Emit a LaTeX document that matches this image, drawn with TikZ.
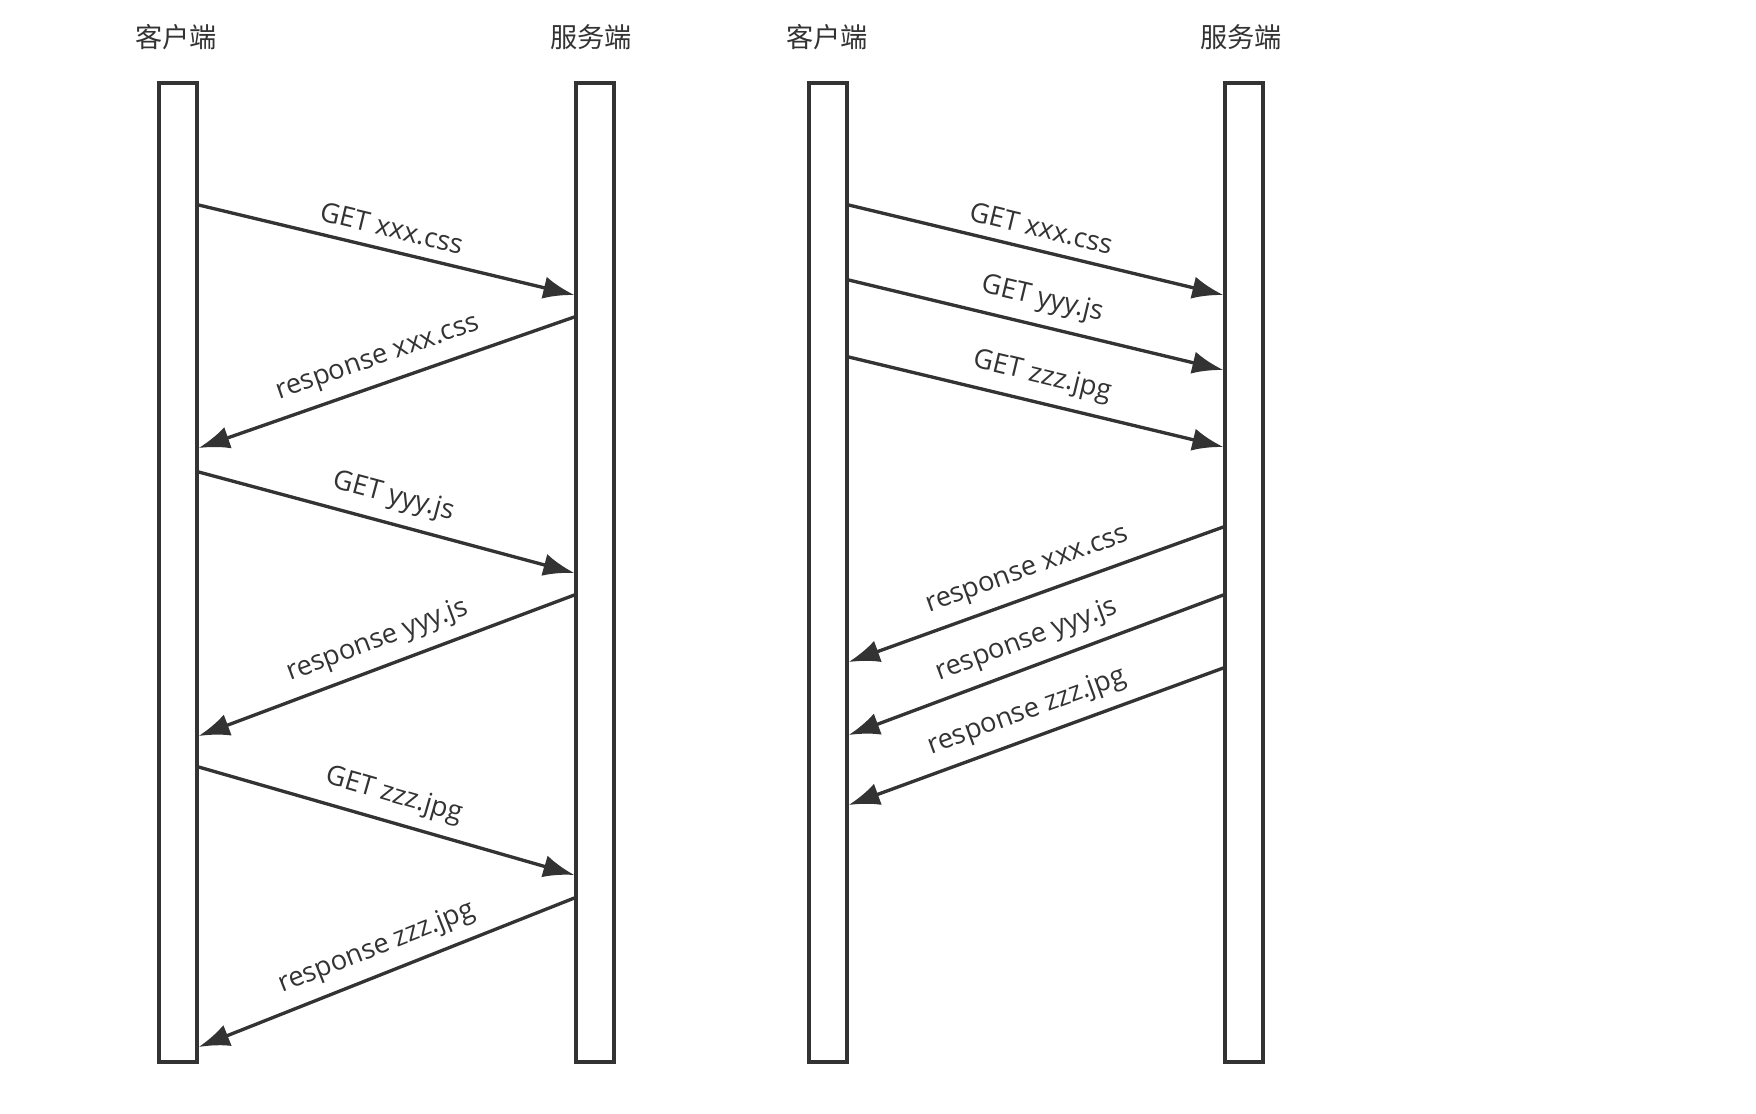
\documentclass[tikz,border=0pt]{standalone}
\usepackage{fontspec}
\setmainfont{Open Sans}
\newfontfamily\cjk{Noto Sans CJK SC}
\usetikzlibrary{arrows.meta}
\definecolor{ink}{HTML}{333333}

\begin{document}
\begin{tikzpicture}[
    x=0.02cm, y=-0.02cm,
    bar/.style={draw=ink, line width=1.9pt, rectangle, minimum width=0.76cm, minimum height=19.58cm, inner sep=0pt},
    side/.style={font=\cjk\fontsize{15.5}{18}\selectfont, text=ink},
    msg/.style={draw=ink, line width=1.9pt, -{Latex[length=0.62cm, width=0.45cm]}},
    lbl/.style={sloped, above=3pt, font=\fontsize{15.5}{18}\selectfont, text=ink}
]
\useasboundingbox (0,0) rectangle (1756,1114);

% one request at a time
\node[bar] (c1) at (178,572.5) {};
\node[bar] (s1) at (595,572.5) {};
\node[side] (lc1) at (176,37) {客户端};
\node[side] (ls1) at (591,37) {服务端};

\draw[msg] (c1.east |- 0,205) -- node[lbl] {GET xxx.css} (s1.west |- 0,295);
\draw[msg] (s1.west |- 0,317) -- node[lbl] {response xxx.css} (c1.east |- 0,448);
\draw[msg] (c1.east |- 0,472) -- node[lbl] {GET yyy.js} (s1.west |- 0,573);
\draw[msg] (s1.west |- 0,595) -- node[lbl] {response yyy.js} (c1.east |- 0,736);
\draw[msg] (c1.east |- 0,767) -- node[lbl] {GET zzz.jpg} (s1.west |- 0,875);
\draw[msg] (s1.west |- 0,898) -- node[lbl] {response zzz.jpg} (c1.east |- 0,1047);

% requests sent together
\node[bar] (c2) at (828,572.5) {};
\node[bar] (s2) at (1244,572.5) {};
\node[side] (lc2) at (827,37) {客户端};
\node[side] (ls2) at (1241,37) {服务端};

\draw[msg] (c2.east |- 0,205) -- node[lbl] {GET xxx.css} (s2.west |- 0,295);
\draw[msg] (c2.east |- 0,280) -- node[lbl] {GET yyy.js} (s2.west |- 0,370);
\draw[msg] (c2.east |- 0,357) -- node[lbl] {GET zzz.jpg} (s2.west |- 0,447);
\draw[msg] (s2.west |- 0,527) -- node[lbl] {response xxx.css} (c2.east |- 0,662);
\draw[msg] (s2.west |- 0,595) -- node[lbl] {response yyy.js} (c2.east |- 0,735);
\draw[msg] (s2.west |- 0,668) -- node[lbl] {response zzz.jpg} (c2.east |- 0,805);

\end{tikzpicture}
\end{document}
